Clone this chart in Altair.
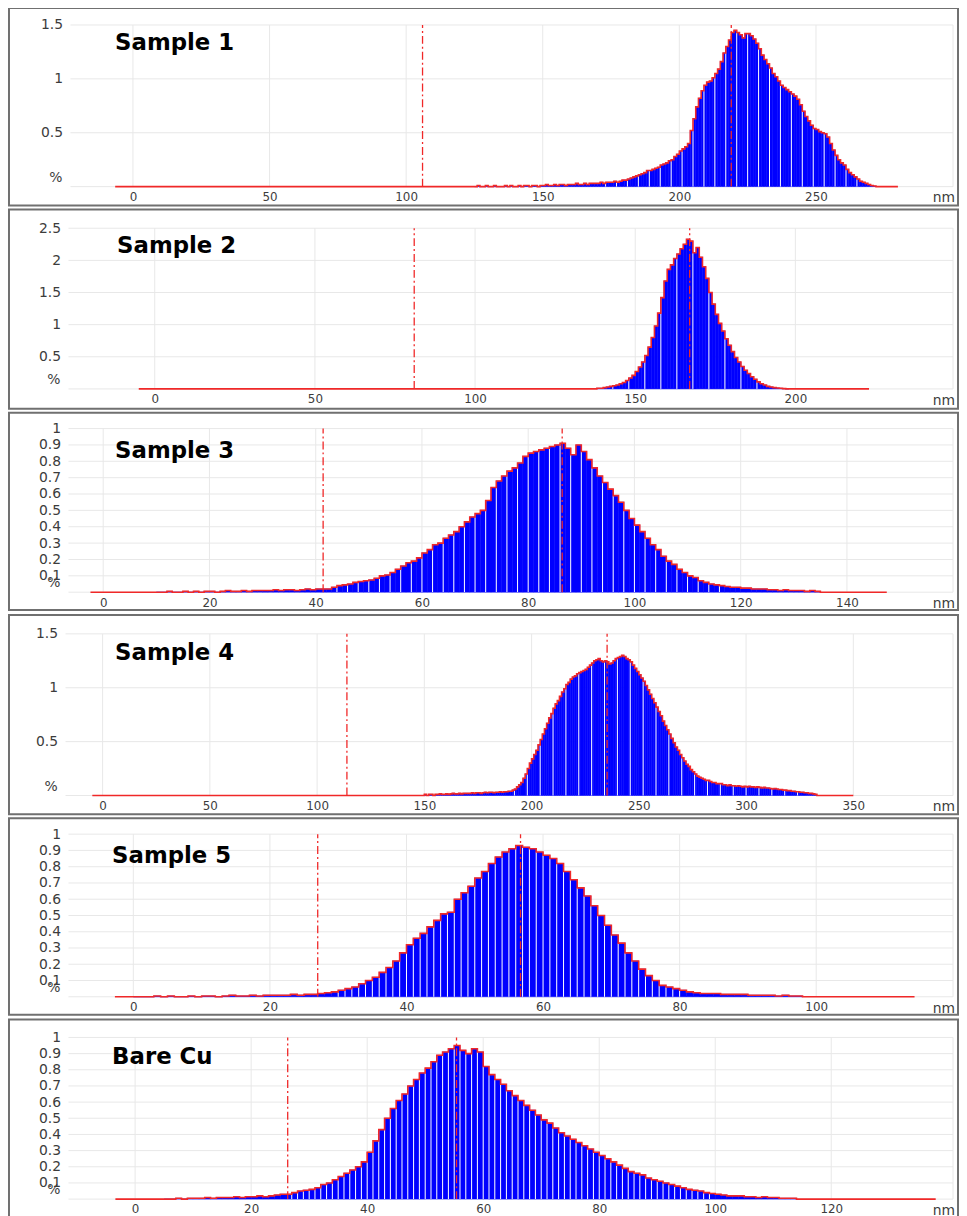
import altair as alt
import pandas as pd

# ---------------- data ----------------
titles = ["Sample 1", "Sample 2", "Sample 3", "Sample 4", "Sample 5", "Bare Cu"]
bin_width = 1  # nm

s1_start = 125
s1_values = [
    0.0, 0.01, 0.0, 0.0, 0.01, 0.0, 0.0, 0.01, 0.0, 0.0, 0.0, 0.01, 0.0, 0.01, 0.0, 0.0, 0.01, 0.0, 0.01, 0.01, 0.0, 0.01, 0.01, 0.0, 0.01,
    0.01, 0.02, 0.01, 0.01, 0.02, 0.01, 0.02, 0.02, 0.01, 0.02,
    0.02, 0.02, 0.03, 0.02, 0.02, 0.03, 0.02, 0.03, 0.03, 0.03,
    0.03, 0.04, 0.03, 0.04, 0.04, 0.04, 0.05, 0.04, 0.05, 0.06,
    0.06, 0.07, 0.08, 0.09, 0.10, 0.11, 0.12, 0.13, 0.15, 0.15,
    0.16, 0.17, 0.18, 0.20, 0.21, 0.22, 0.24, 0.25, 0.28, 0.30,
    0.33, 0.35, 0.37, 0.40, 0.52, 0.63, 0.74, 0.82, 0.89, 0.94,
    0.97, 0.98, 1.01, 1.05, 1.09, 1.16, 1.24, 1.30, 1.36, 1.43,
    1.45, 1.43, 1.41, 1.38, 1.42, 1.42, 1.40, 1.37, 1.33, 1.28,
    1.22, 1.18, 1.14, 1.10, 1.05, 1.02, 0.98, 0.94, 0.92, 0.90,
    0.88, 0.86, 0.84, 0.81, 0.76, 0.70, 0.65, 0.61, 0.57, 0.54,
    0.53, 0.51, 0.50, 0.49, 0.46, 0.40, 0.34, 0.29, 0.25, 0.22,
    0.20, 0.16, 0.13, 0.11, 0.09, 0.07, 0.05, 0.04, 0.03, 0.02,
    0.01, 0.005,
]

s2_start = 138
s2_values = [
    0.01, 0.01, 0.02, 0.03, 0.04, 0.05,
    0.06, 0.08, 0.10, 0.13, 0.17, 0.21,
    0.27, 0.34, 0.42, 0.52, 0.65, 0.80,
    0.98, 1.18, 1.42, 1.68, 1.86, 1.93,
    2.03, 2.10, 2.18, 2.25, 2.33, 2.30,
    2.12, 2.20, 2.05, 1.90, 1.72, 1.50,
    1.32, 1.16, 1.02, 0.90, 0.78, 0.68,
    0.58, 0.49, 0.42, 0.35, 0.29, 0.24,
    0.19, 0.15, 0.11, 0.08, 0.06, 0.04,
    0.03, 0.02, 0.015, 0.01, 0.005, 0.0,
]

s3_start = 10
s3_values = [
    0.0, 0.0, 0.005, 0.0, 0.0, 0.005, 0.0, 0.005, 0.0, 0.005,
    0.005, 0.0, 0.005, 0.01, 0.005, 0.005, 0.01, 0.005, 0.01, 0.01,
    0.01, 0.01, 0.015, 0.01, 0.015, 0.015, 0.01, 0.015, 0.02, 0.015,
    0.02, 0.02, 0.02, 0.03, 0.04, 0.045, 0.05, 0.06, 0.065, 0.07,
    0.075, 0.085, 0.10, 0.105, 0.12, 0.14, 0.16, 0.18, 0.19, 0.21,
    0.24, 0.26, 0.29, 0.30, 0.33, 0.35, 0.37, 0.40, 0.43, 0.46,
    0.48, 0.50, 0.56, 0.64, 0.68, 0.71, 0.74, 0.76, 0.79, 0.83,
    0.85, 0.86, 0.87, 0.88, 0.89, 0.90, 0.91, 0.88, 0.84, 0.90,
    0.86, 0.81, 0.76, 0.71, 0.67, 0.63, 0.59, 0.55, 0.50, 0.45,
    0.41, 0.37, 0.33, 0.29, 0.26, 0.22, 0.19, 0.17, 0.14, 0.12,
    0.10, 0.09, 0.07, 0.06, 0.05, 0.045, 0.04, 0.035, 0.03, 0.03,
    0.025, 0.025, 0.02, 0.02, 0.02, 0.015, 0.015, 0.01, 0.015, 0.01,
    0.01, 0.01, 0.005, 0.01, 0.005,
]

s4_start = 150
s4_values = [
    0.01, 0.0, 0.01, 0.01, 0.0, 0.01, 0.01, 0.015, 0.01, 0.01,
    0.015, 0.01, 0.015, 0.02, 0.015, 0.015, 0.02, 0.015, 0.02, 0.02,
    0.02, 0.02, 0.025, 0.02, 0.025, 0.025, 0.02, 0.025, 0.03, 0.025,
    0.03, 0.03, 0.025, 0.03, 0.03, 0.035, 0.03, 0.035, 0.035, 0.04,
    0.04, 0.05, 0.06, 0.08, 0.10, 0.12, 0.16, 0.20, 0.25, 0.30,
    0.34, 0.38, 0.42, 0.47, 0.52, 0.57, 0.62, 0.67, 0.72, 0.76,
    0.81, 0.85, 0.88, 0.92, 0.96, 0.99, 1.03, 1.05, 1.08, 1.10,
    1.11, 1.13, 1.14, 1.15, 1.16, 1.17, 1.19, 1.21, 1.23, 1.25,
    1.26, 1.27, 1.25, 1.24, 1.25, 1.24, 1.22, 1.23, 1.25, 1.27,
    1.28, 1.29, 1.30, 1.29, 1.27, 1.26, 1.24, 1.21, 1.18, 1.15,
    1.12, 1.09, 1.06, 1.02, 0.98, 0.94, 0.90, 0.86, 0.82, 0.78,
    0.74, 0.69, 0.65, 0.61, 0.57, 0.53, 0.49, 0.45, 0.42, 0.38,
    0.35, 0.32, 0.29, 0.27, 0.24, 0.22, 0.20, 0.18, 0.17, 0.16,
    0.15, 0.14, 0.14, 0.13, 0.12, 0.12, 0.11, 0.11, 0.11, 0.10,
    0.10, 0.09, 0.10, 0.09, 0.09, 0.085, 0.09, 0.085, 0.08, 0.085,
    0.08, 0.085, 0.08, 0.08, 0.075, 0.08, 0.075, 0.07, 0.075, 0.07,
    0.07, 0.065, 0.06, 0.065, 0.06, 0.055, 0.055, 0.05, 0.05, 0.045,
    0.045, 0.04, 0.04, 0.035, 0.035, 0.03, 0.03, 0.025, 0.025, 0.02,
    0.02, 0.015, 0.01,
]

s5_start = 0
s5_values = [
    0.0, 0.0, 0.0, 0.005, 0.0, 0.005, 0.0, 0.0, 0.005, 0.0,
    0.005, 0.005, 0.0, 0.005, 0.01, 0.005, 0.005, 0.01, 0.005, 0.01,
    0.01, 0.01, 0.01, 0.015, 0.01, 0.015, 0.015, 0.02, 0.025, 0.03,
    0.04, 0.05, 0.06, 0.08, 0.10, 0.12, 0.15, 0.18, 0.22, 0.27,
    0.32, 0.36, 0.39, 0.43, 0.47, 0.51, 0.52, 0.60, 0.64, 0.68,
    0.73, 0.77, 0.82, 0.86, 0.89, 0.91, 0.93, 0.92, 0.91, 0.89,
    0.87, 0.85, 0.82, 0.77, 0.72, 0.67, 0.62, 0.56, 0.50, 0.44,
    0.38, 0.33, 0.27, 0.22, 0.17, 0.13, 0.10, 0.07, 0.06, 0.05,
    0.04, 0.03, 0.025, 0.02, 0.02, 0.02, 0.015, 0.015, 0.015, 0.015,
    0.01, 0.01, 0.01, 0.01, 0.005, 0.01, 0.005, 0.005,
]

s6_start = 5
s6_values = [
    0.0, 0.0, 0.005, 0.0, 0.005, 0.005, 0.005, 0.01, 0.005, 0.01,
    0.01, 0.01, 0.015, 0.01, 0.015, 0.015, 0.02, 0.015, 0.02, 0.025,
    0.03, 0.03, 0.04, 0.05, 0.055, 0.06, 0.07, 0.09, 0.10, 0.12,
    0.14, 0.16, 0.18, 0.20, 0.23, 0.29, 0.36, 0.43, 0.50, 0.56,
    0.61, 0.65, 0.70, 0.74, 0.78, 0.81, 0.85, 0.89, 0.91, 0.93,
    0.95, 0.92, 0.90, 0.93, 0.91, 0.82, 0.77, 0.74, 0.71, 0.67,
    0.64, 0.61, 0.58, 0.55, 0.52, 0.49, 0.47, 0.44, 0.41, 0.39,
    0.37, 0.35, 0.33, 0.31, 0.29, 0.27, 0.25, 0.23, 0.21, 0.19,
    0.17, 0.16, 0.15, 0.13, 0.12, 0.11, 0.10, 0.09, 0.08, 0.07,
    0.06, 0.055, 0.05, 0.04, 0.035, 0.03, 0.025, 0.02, 0.02, 0.02,
    0.015, 0.015, 0.01, 0.015, 0.01, 0.01, 0.005, 0.005, 0.005,
]

bin_starts = [s1_start, s2_start, s3_start, s4_start, s5_start, s6_start]
values = [s1_values, s2_values, s3_values, s4_values, s5_values, s6_values]

x_ticks = [
    [0, 50, 100, 150, 200, 250],
    [0, 50, 100, 150, 200],
    [0, 20, 40, 60, 80, 100, 120, 140],
    [0, 50, 100, 150, 200, 250, 300, 350],
    [0, 20, 40, 60, 80, 100],
    [0, 20, 40, 60, 80, 100, 120],
]
tenths = [0, 0.1, 0.2, 0.3, 0.4, 0.5, 0.6, 0.7, 0.8, 0.9, 1.0]
y_ticks = [
    [0, 0.5, 1, 1.5],
    [0, 0.5, 1, 1.5, 2, 2.5],
    tenths,
    [0, 0.5, 1, 1.5],
    tenths,
    tenths,
]
baseline_ranges = [(-6.5, 280), (-5, 223), (-2.4, 147.5), (-4.8, 350), (-2.7, 114.4), (-3.4, 138)]
left_marks = [106, 81, 41.4, 113.9, 27.0, 26.3]
mode_marks = [219, 167, 86.4, 235.2, 56.7, 55.4]

# ---------------- layout (pixels) ----------------
PAGE_LEFT = 8
PANEL_W = 957
panel_h = [199, 201, 199, 201, 198, 199]
zero_px = [133, 155, 103, 102.4, 133.4, 135.2]      # page x of 0 nm
px_per_nm = [2.755, 3.23, 5.357, 2.163, 6.886, 5.85]
grid_left_px = [70, 68, 68, 65, 68, 68]
GRID_RIGHT_PX = 960
top_rel = [17, 19, 16, 19, 16, 18]                 # top tick below panel top
base_rel = [180, 181, 181, 182, 180, 181]          # baseline below panel top
title_x = [107, 109, 107, 107, 104, 104]
title_base = [42, 44, 46, 45, 45, 45]
stripe_every = [4, 5, 2, 6, 1, 1]

FONT = "DejaVu Sans"
LABEL_COLOR = "#3c3c3c"
BLUE = "#0000ff"
RED = "#f02828"
GRID = "#e8e8e8"


def panel(i):
    ppn = px_per_nm[i]
    z = zero_px[i]

    def nm(px):
        return (px - z) / ppn

    H = panel_h[i]
    ymax = y_ticks[i][-1]
    u = ymax / (base_rel[i] - top_rel[i])
    xs = alt.Scale(domain=[nm(PAGE_LEFT), nm(PAGE_LEFT + PANEL_W)], nice=False, zero=False)
    ys = alt.Scale(domain=[-(H - base_rel[i]) * u, ymax + top_rel[i] * u], nice=False, zero=False)
    gl_rel = grid_left_px[i] - PAGE_LEFT

    xa = alt.Axis(values=x_ticks[i], title=None, grid=False, ticks=False, tickSize=0,
                  domain=False, labelFont=FONT, labelFontSize=12, labelColor=LABEL_COLOR,
                  labelPadding=5, offset=-(H - base_rel[i]), labelOverlap=False,
                  labelFlush=False, format="d")
    ya = alt.Axis(values=[t for t in y_ticks[i] if t != 0], title=None, grid=False,
                  ticks=False, tickSize=0, domain=False, labelFont=FONT, labelFontSize=14,
                  labelColor=LABEL_COLOR, labelPadding=8, offset=-gl_rel,
                  labelOverlap=False, labelFlush=False, format="~g")

    def X(f):
        return alt.X(f, type="quantitative", scale=xs, axis=xa)

    def Y(f):
        return alt.Y(f, type="quantitative", scale=ys, axis=ya)

    vals = values[i]
    s = bin_starts[i]
    n = len(vals)
    bars = pd.DataFrame({
        "x0": [s + k * bin_width for k in range(n)],
        "x1": [s + (k + 1) * bin_width for k in range(n)],
        "v": vals,
        "z": [0] * n,
        "k": list(range(n)),
    })
    b0, b1 = baseline_ranges[i]
    line_df = pd.DataFrame({
        "x": [b0] + list(bars["x0"]) + [s + n * bin_width, b1],
        "v": [0] + list(vals) + [0, 0],
    })
    hgrid = pd.DataFrame({"t": y_ticks[i], "gl": nm(grid_left_px[i]), "gr": nm(GRID_RIGHT_PX)})
    vgrid = pd.DataFrame({"x": x_ticks[i] + [nm(GRID_RIGHT_PX)], "y0": 0, "y1": ymax})
    marks = pd.DataFrame({"x": [left_marks[i], mode_marks[i]], "y0": 0, "y1": ymax})

    l_hgrid = alt.Chart(hgrid).mark_rule(color=GRID, strokeWidth=1).encode(
        x=X("gl"), x2="gr", y=Y("t"))
    l_vgrid = alt.Chart(vgrid).mark_rule(color=GRID, strokeWidth=1).encode(
        x=X("x"), y=Y("y0"), y2="y1")
    l_bars = alt.Chart(bars).mark_bar(color=BLUE, stroke=BLUE, strokeWidth=0.5).encode(
        x=X("x0"), x2="x1", y=Y("v"), y2="z")
    l_stripes = alt.Chart(bars).transform_filter(
        f"datum.k % {stripe_every[i]} == 0 && datum.v > 0.03"
    ).mark_rule(color="white", strokeWidth=1).encode(x=X("x0"), y=Y("v"), y2="z")
    l_line = alt.Chart(line_df).mark_line(color=RED, strokeWidth=1.6, interpolate="step-after").encode(
        x=X("x"), y=Y("v"))
    l_marks = alt.Chart(marks).mark_rule(color=RED, strokeWidth=1.3, strokeDash=[8, 3, 2, 3]).encode(
        x=X("x"), y=Y("y0"), y2="y1")
    l_pct = alt.Chart(pd.DataFrame({"v": [0], "t": ["%"]})).mark_text(
        align="right", baseline="middle", dy=-9, font=FONT, fontSize=14, color=LABEL_COLOR
    ).encode(x=alt.value(gl_rel - 8), y=Y("v"), text="t:N")
    l_title = alt.Chart(pd.DataFrame({"t": [titles[i]]})).mark_text(
        align="left", baseline="alphabetic", font=FONT, fontSize=23, fontWeight="bold", color="black"
    ).encode(x=alt.value(title_x[i]), y=alt.value(title_base[i]), text="t:N")
    l_nm = alt.Chart(pd.DataFrame({"t": ["nm"]})).mark_text(
        align="right", baseline="alphabetic", font=FONT, fontSize=14, color=LABEL_COLOR
    ).encode(x=alt.value(PANEL_W - 3), y=alt.value(base_rel[i] + 16), text="t:N")

    return alt.layer(l_hgrid, l_vgrid, l_bars, l_stripes, l_line, l_marks, l_pct, l_title, l_nm).properties(
        width=PANEL_W, height=H)


chart = alt.vconcat(*[panel(i) for i in range(6)], spacing=2).properties(
    padding={"top": -6, "left": 0, "right": 0, "bottom": 0}, background="white"
).configure_view(stroke="#707070", strokeWidth=2)

chart.save("out.html", embed_options={"renderer": "svg", "actions": False})
